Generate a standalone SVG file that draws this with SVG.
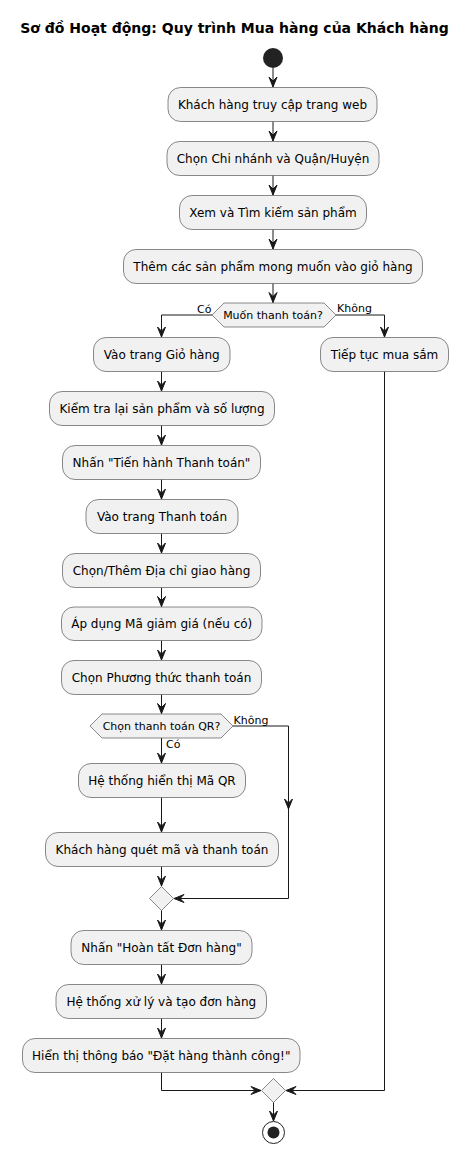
<svg xmlns="http://www.w3.org/2000/svg" width="470" height="1154" viewBox="0 0 470 1154">
<style>
.bg{fill:#FFFFFF}
.box{fill:#F1F1F1;stroke:#181818;stroke-width:0.5}
.dec{fill:#F1F1F1;stroke:#181818;stroke-width:0.5}
.t{font-family:"DejaVu Sans",Verdana,sans-serif;font-size:12px;fill:#000000;text-anchor:middle}
.dt{font-family:"DejaVu Sans",Verdana,sans-serif;font-size:11px;fill:#000000;text-anchor:middle}
.lb{font-family:"DejaVu Sans",Verdana,sans-serif;font-size:11px;fill:#000000}
.title{font-family:"DejaVu Sans",Verdana,sans-serif;font-size:14px;font-weight:bold;fill:#000000;text-anchor:middle}
.c{fill:none;stroke:#181818;stroke-width:1}
</style>
<defs>
<marker id="ah" viewBox="-12 -6 14 12" refX="0" refY="0" markerWidth="14" markerHeight="12" markerUnits="userSpaceOnUse" orient="auto">
<path d="M0,0 L-10,-4 L-6,0 L-10,4 Z" fill="#181818" stroke="#181818" stroke-width="1" stroke-linejoin="miter"/>
</marker>
</defs>
<rect class="bg" x="0" y="0" width="470" height="1154"/>
<text class="title" x="234.5" y="33">Sơ đồ Hoạt động: Quy trình Mua hàng của Khách hàng</text>

<g id="connectors">
<path class="c" d="M273,68 L273,87" marker-end="url(#ah)"/>
<path class="c" d="M273,121.5 L273,141" marker-end="url(#ah)"/>
<path class="c" d="M273,175.5 L273,195" marker-end="url(#ah)"/>
<path class="c" d="M273,229.5 L273,249" marker-end="url(#ah)"/>
<path class="c" d="M273,283.5 L273,302.5" marker-end="url(#ah)"/>
<path class="c" d="M212,315 L161.5,315 L161.5,337" marker-end="url(#ah)"/>
<path class="c" d="M336,315 L384.5,315 L384.5,337" marker-end="url(#ah)"/>
<path class="c" d="M161.5,371.5 L161.5,391" marker-end="url(#ah)"/>
<path class="c" d="M161.5,425.5 L161.5,445" marker-end="url(#ah)"/>
<path class="c" d="M161.5,479.5 L161.5,499" marker-end="url(#ah)"/>
<path class="c" d="M161.5,533.5 L161.5,553" marker-end="url(#ah)"/>
<path class="c" d="M161.5,587.5 L161.5,606.5" marker-end="url(#ah)"/>
<path class="c" d="M161.5,640.5 L161.5,660" marker-end="url(#ah)"/>
<path class="c" d="M161.5,694.5 L161.5,713.5" marker-end="url(#ah)"/>
<path class="c" d="M161.5,738 L161.5,763" marker-end="url(#ah)"/>
<path class="c" d="M161.5,797.5 L161.5,832" marker-end="url(#ah)"/>
<path class="c" d="M161.5,866.5 L161.5,886" marker-end="url(#ah)"/>
<path class="c" d="M233,726 L288.5,726 L288.5,809" marker-end="url(#ah)"/>
<path class="c" d="M288.5,809 L288.5,898.5 L174,898.5" marker-end="url(#ah)"/>
<path class="c" d="M161.5,910.5 L161.5,930" marker-end="url(#ah)"/>
<path class="c" d="M161.5,964.5 L161.5,984" marker-end="url(#ah)"/>
<path class="c" d="M161.5,1018.5 L161.5,1038" marker-end="url(#ah)"/>
<path class="c" d="M161.5,1072.5 L161.5,1090.5 L261,1090.5" marker-end="url(#ah)"/>
<path class="c" d="M384.5,371.5 L384.5,1090.5 L286,1090.5" marker-end="url(#ah)"/>
<path class="c" d="M273.5,1102.5 L273.5,1121" marker-end="url(#ah)"/>
<text class="lb" x="197" y="312.5">Có</text>
<text class="lb" x="337" y="312">Không</text>
<text class="lb" x="233.5" y="724">Không</text>
<text class="lb" x="166" y="748">Có</text>
</g>

<g id="start"><circle cx="273" cy="58" r="10" fill="#222222"/></g>

<g id="n1"><rect class="box" x="168" y="87.5" width="209" height="34" rx="12.5"/><text class="t" x="272.5" y="108.5">Khách hàng truy cập trang web</text></g>
<g id="n2"><rect class="box" x="167" y="141.5" width="212" height="34" rx="12.5"/><text class="t" x="273" y="162.5">Chọn Chi nhánh và Quận/Huyện</text></g>
<g id="n3"><rect class="box" x="179.5" y="195.5" width="187" height="34" rx="12.5"/><text class="t" x="273" y="216.5">Xem và Tìm kiếm sản phẩm</text></g>
<g id="n4"><rect class="box" x="123.5" y="249.5" width="299" height="34" rx="12.5"/><text class="t" x="273" y="270.5">Thêm các sản phẩm mong muốn vào giỏ hàng</text></g>

<g id="d1"><polygon class="dec" points="212,315 224,303 324,303 336,315 324,327 224,327"/><text class="dt" x="273" y="318.5">Muốn thanh toán?</text></g>

<g id="l1"><rect class="box" x="93.5" y="337.5" width="136.5" height="34" rx="12.5"/><text class="t" x="161.75" y="358.5">Vào trang Giỏ hàng</text></g>
<g id="r1"><rect class="box" x="320.5" y="337.5" width="128" height="34" rx="12.5"/><text class="t" x="384.5" y="358.5">Tiếp tục mua sắm</text></g>
<g id="l2"><rect class="box" x="49.5" y="391.5" width="225" height="34" rx="12.5"/><text class="t" x="162" y="412.5">Kiểm tra lại sản phẩm và số lượng</text></g>
<g id="l3"><rect class="box" x="62.5" y="445.5" width="198" height="34" rx="12.5"/><text class="t" x="161.5" y="466.5">Nhấn "Tiến hành Thanh toán"</text></g>
<g id="l4"><rect class="box" x="86" y="499.5" width="152" height="34" rx="12.5"/><text class="t" x="162" y="520.5">Vào trang Thanh toán</text></g>
<g id="l5"><rect class="box" x="62.5" y="553.5" width="198" height="34" rx="12.5"/><text class="t" x="161.5" y="574.5">Chọn/Thêm Địa chỉ giao hàng</text></g>
<g id="l6"><rect class="box" x="61.5" y="607" width="200.5" height="33.5" rx="12.5"/><text class="t" x="161.75" y="628">Áp dụng Mã giảm giá (nếu có)</text></g>
<g id="l7"><rect class="box" x="61.5" y="660.5" width="200" height="34" rx="12.5"/><text class="t" x="161.5" y="681.5">Chọn Phương thức thanh toán</text></g>

<g id="d2"><polygon class="dec" points="90,726 102,714 221,714 233,726 221,738 102,738"/><text class="dt" x="161.5" y="730">Chọn thanh toán QR?</text></g>

<g id="q1"><rect class="box" x="78.5" y="763.5" width="167" height="34" rx="12.5"/><text class="t" x="162" y="784.5">Hệ thống hiển thị Mã QR</text></g>
<g id="q2"><rect class="box" x="45.5" y="832.5" width="233" height="34" rx="12.5"/><text class="t" x="162" y="853.5">Khách hàng quét mã và thanh toán</text></g>

<g id="m1"><polygon class="dec" points="161.5,886.5 173.5,898.5 161.5,910.5 149.5,898.5"/></g>

<g id="f1"><rect class="box" x="71" y="930.5" width="181" height="34" rx="12.5"/><text class="t" x="161.5" y="951.5">Nhấn "Hoàn tất Đơn hàng"</text></g>
<g id="f2"><rect class="box" x="56" y="984.5" width="210.5" height="34" rx="12.5"/><text class="t" x="161.25" y="1005.5">Hệ thống xử lý và tạo đơn hàng</text></g>
<g id="f3"><rect class="box" x="22.5" y="1038.5" width="277.5" height="34" rx="12.5"/><text class="t" x="161.25" y="1059.5">Hiển thị thông báo "Đặt hàng thành công!"</text></g>

<g id="m2"><polygon class="dec" points="273.5,1078.5 285.5,1090.5 273.5,1102.5 261.5,1090.5"/></g>

<g id="end"><circle cx="273.5" cy="1132.5" r="11" fill="none" stroke="#222222" stroke-width="1"/><circle cx="273.5" cy="1132.5" r="6" fill="#222222"/></g>
</svg>
